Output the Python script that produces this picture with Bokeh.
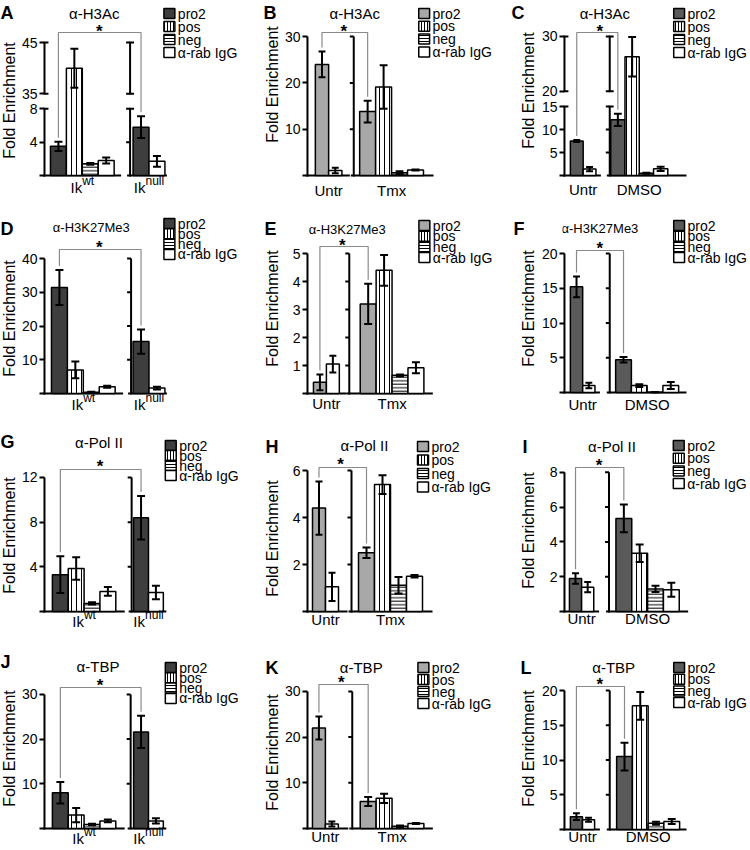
import math
from bokeh.plotting import figure
from bokeh.layouts import gridplot
from bokeh.models import Range1d, FixedTicker
from bokeh.core.properties import value
from bokeh.embed import file_html
from bokeh.resources import INLINE

FONT = "Liberation Sans"

# ---------------- data ----------------
series_names = ["pro2", "pos", "neg", "α-rab IgG"]
panel_letters = ["A", "B", "C", "D", "E", "F", "G", "H", "I", "J", "K", "L"]
panel_titles = ["α-H3Ac", "α-H3Ac", "α-H3Ac",
                "α-H3K27Me3", "α-H3K27Me3", "α-H3K27Me3",
                "α-Pol II", "α-Pol II", "α-Pol II",
                "α-TBP", "α-TBP", "α-TBP"]
y_axis_title = "Fold Enrichment"
group_labels_ik = [("Ik", "wt"), ("Ik", "null")]
group_labels_tmx = [("Untr", ""), ("Tmx", "")]
group_labels_dmso = [("Untr", ""), ("DMSO", "")]

ticks_A = [4, 8, 35, 45]
ticks_B = [10, 20, 30]
ticks_C = [5, 10, 15, 20, 30]
ticks_D = [10, 20, 30, 40]
ticks_E = [1, 2, 3, 4, 5]
ticks_F = [5, 10, 15, 20]
ticks_G = [4, 8, 12]
ticks_H = [2, 4, 6]
ticks_I = [2, 4, 6, 8]
ticks_J = [10, 20, 30]
ticks_K = [10, 20, 30]
ticks_L = [5, 10, 15, 20]

# values in series order [pro2, pos, neg, α-rab IgG]; None = not shown
A_g1 = [3.5, 40.0, 1.4, 1.8];    A_g1_err = [0.55, 3.8, 0.1, 0.35]
A_g2 = [5.8, None, None, 1.7];   A_g2_err = [1.3, None, None, 0.65]
B_g1 = [24.0, None, None, 1.1];  B_g1_err = [2.8, None, None, 0.6]
B_g2 = [13.8, 19.1, 0.6, 1.2];   B_g2_err = [2.35, 4.7, 0.3, 0.1]
C_g1 = [7.5, None, None, 1.4];   C_g1_err = [0.2, None, None, 0.45]
C_g2 = [12.1, 26.3, 0.5, 1.45];  C_g2_err = [1.35, 3.6, 0.1, 0.45]
D_g1 = [31.4, 7.0, 0.4, 2.0];    D_g1_err = [5.2, 2.5, 0.1, 0.3]
D_g2 = [15.4, None, None, 1.6];  D_g2_err = [3.6, None, None, 0.4]
E_g1 = [0.4, None, None, 1.05];  E_g1_err = [0.28, None, None, 0.3]
E_g2 = [3.2, 4.4, 0.65, 0.92];   E_g2_err = [0.72, 0.55, 0.03, 0.2]
F_g1 = [15.2, None, None, 1.0];  F_g1_err = [1.5, None, None, 0.4]
F_g2 = [4.7, 1.0, 0.05, 1.0];    F_g2_err = [0.4, 0.2, 0.0, 0.5]
G_g1 = [3.3, 3.85, 0.72, 1.8];   G_g1_err = [1.65, 1.0, 0.1, 0.4]
G_g2 = [8.4, None, None, 1.7];   G_g2_err = [1.95, None, None, 0.6]
H_g1 = [4.4, None, None, 1.05];  H_g1_err = [1.13, None, None, 0.6]
H_g2 = [2.5, 5.4, 1.12, 1.5];    H_g2_err = [0.22, 0.4, 0.35, 0.05]
I_g1 = [1.9, None, None, 1.4];   I_g1_err = [0.3, None, None, 0.3]
I_g2 = [5.35, 3.35, 1.3, 1.25];  I_g2_err = [0.8, 0.5, 0.18, 0.4]
J_g1 = [8.0, 3.0, 0.9, 1.7];     J_g1_err = [2.4, 1.6, 0.15, 0.3]
J_g2 = [21.6, None, None, 1.7];  J_g2_err = [3.6, None, None, 0.6]
K_g1 = [22.0, None, None, 1.0];  K_g1_err = [2.5, None, None, 0.55]
K_g2 = [5.9, 6.6, 0.5, 1.1];     K_g2_err = [1.0, 1.0, 0.15, 0.1]
L_g1 = [1.85, None, None, 1.4];  L_g1_err = [0.5, None, None, 0.3]
L_g2 = [10.5, 17.8, 0.9, 1.15];  L_g2_err = [2.0, 2.0, 0.2, 0.35]

PANEL_DATA = {
    "A": (A_g1, A_g1_err, A_g2, A_g2_err), "B": (B_g1, B_g1_err, B_g2, B_g2_err),
    "C": (C_g1, C_g1_err, C_g2, C_g2_err), "D": (D_g1, D_g1_err, D_g2, D_g2_err),
    "E": (E_g1, E_g1_err, E_g2, E_g2_err), "F": (F_g1, F_g1_err, F_g2, F_g2_err),
    "G": (G_g1, G_g1_err, G_g2, G_g2_err), "H": (H_g1, H_g1_err, H_g2, H_g2_err),
    "I": (I_g1, I_g1_err, I_g2, I_g2_err), "J": (J_g1, J_g1_err, J_g2, J_g2_err),
    "K": (K_g1, K_g1_err, K_g2, K_g2_err), "L": (L_g1, L_g1_err, L_g2, L_g2_err),
}
PANEL_TICKS = {"A": ticks_A, "B": ticks_B, "C": ticks_C, "D": ticks_D, "E": ticks_E,
               "F": ticks_F, "G": ticks_G, "H": ticks_H, "I": ticks_I, "J": ticks_J,
               "K": ticks_K, "L": ticks_L}
GROUP_LABELS = [group_labels_ik, group_labels_tmx, group_labels_dmso]

# ---------------- layout / style (pixels in the reference picture) ----------------
COL_O = [0, 250, 500]
ROW_O = [0, 210, 420, 635]
FIG_W = [250, 250, 249]
STRIP_W = [18, 31, 38]
FIG_H = [210, 210, 215, 214]
PRO2_COLORS = ["#3e3e3e", "#a8a8a8", "#5a5a5a"]
TITLE_SIZE = ["15px", "13px", "15px", "15px"]
TICK_SIZE = ["14px", "14px", "14px"]

LAYOUT = {
    "A": dict(lx=43, mx=129, g1=(49, 16), b1=120, g2=(132, 16), b2=166, y0=175, ppu=8.33,
              brk=(8, 35, 15, 5.13), br=32, ast=(98, 28), title=(93, 13), letter=(0, 12),
              leg=(163, 13, 13), fe=(9, 100), xl=11),
    "B": dict(lx=304, mx=351, g1=(312, 13.5), b1=347, g2=(357, 16.2), b2=432, y0=175, ppu=4.63,
              br=32, ast=(341, 28), title=(352, 13), letter=(263, 12),
              leg=(417, 13, 12.8), fe=(272, 84), xl=15),
    "C": dict(lx=561, mx=607, g1=(567, 13), b1=598, g2=(608, 14.5), b2=685, y0=175, ppu=4.6,
              brk=(15, 20, 15.3, 5.47), br=32, ast=(597, 28), title=(602, 13), letter=(511, 12),
              leg=(672, 13, 13), fe=(528, 90), xl=14),
    "D": dict(lx=43, mx=130, g1=(50, 16), b1=122, g2=(132, 16), b2=166, y0=393, ppu=3.375,
              br=249, ast=(98, 244), title=(90, 227), letter=(0, 228),
              leg=(163, 223, 10.3), fe=(9, 318), xl=10),
    "E": dict(lx=306, mx=348, g1=(312, 13), b1=345, g2=(359, 16), b2=432, y0=393, ppu=28,
              br=246, ast=(341, 242), title=(346, 229), letter=(264, 228),
              leg=(418, 225, 10.7), fe=(272, 308), xl=10),
    "F": dict(lx=561, mx=607, g1=(567, 12.5), b1=597, g2=(613, 16), b2=685, y0=392, ppu=6.95,
              br=250, ast=(597, 245), title=(597, 228), letter=(513, 228),
              leg=(672, 225, 10.7), fe=(528, 308), xl=12),
    "G": dict(lx=42, mx=130, g1=(50, 16), b1=123, g2=(132, 15), b2=165, y0=611, ppu=11.17,
              br=469, ast=(98, 463), title=(97, 442), letter=(0, 441),
              leg=(164, 445, 10), fe=(9, 535), xl=9),
    "H": dict(lx=307, mx=351, g1=(312, 13), b1=347, g2=(358, 16), b2=432, y0=611, ppu=23.5,
              br=467, ast=(340, 461), title=(364, 445), letter=(265, 446),
              leg=(417, 446, 13.5), fe=(272, 538), xl=8),
    "I": dict(lx=562, mx=607, g1=(567, 12.3), b1=597, g2=(614, 16), b2=687, y0=611, ppu=17.4,
              br=467, ast=(597, 462), title=(610, 446), letter=(522, 446),
              leg=(672, 445, 12.7), fe=(528, 530), xl=7),
    "J": dict(lx=42, mx=129, g1=(50, 16), b1=123, g2=(132, 15), b2=165, y0=828, ppu=4.47,
              br=687, ast=(98, 682), title=(96, 666), letter=(0, 661),
              leg=(164, 667, 10.3), fe=(9, 748), xl=9),
    "K": dict(lx=306, mx=351, g1=(311, 13), b1=347, g2=(359, 16), b2=432, y0=828, ppu=4.57,
              br=684, ast=(340, 679), title=(360, 667), letter=(265, 667),
              leg=(417, 667, 12), fe=(272, 752), xl=8),
    "L": dict(lx=561, mx=607, g1=(567, 12.3), b1=597, g2=(614, 16), b2=685, y0=829, ppu=6.95,
              br=686, ast=(597, 681), title=(611, 667), letter=(520, 667),
              leg=(672, 667, 11.7), fe=(528, 748), xl=7),
}


def build_strip(idx):
    """Narrow figure holding the panel letter and the rotated y-axis title."""
    letter = panel_letters[idx]
    r, c = divmod(idx, 3)
    L = LAYOUT[letter]
    ox, oy, sw, H = COL_O[c], ROW_O[r], STRIP_W[c], FIG_H[r]
    s = figure(width=sw, height=H, title=None, tools="", toolbar_location=None,
               output_backend="svg", x_axis_location=None, y_axis_location=None,
               x_range=Range1d(0, sw), y_range=Range1d(0, H),
               min_border_left=0, min_border_right=0, min_border_top=0, min_border_bottom=0,
               outline_line_color=None, background_fill_color="white",
               border_fill_color="white")
    s.grid.visible = False
    s.text(x=[max(L["letter"][0] - ox, 0)], y=[H - (L["letter"][1] - oy)], text=[letter],
           text_font=value(FONT), text_font_size="18px", text_font_style="bold",
           text_align="left", text_baseline="middle", text_color="black")
    s.text(x=[L["fe"][0] - ox], y=[H - (L["fe"][1] - oy)], text=[y_axis_title],
           angle=math.pi / 2, text_font=value(FONT), text_font_size="16px",
           text_align="center", text_baseline="middle", text_color="black")
    return s


def build(idx):
    letter = panel_letters[idx]
    r, c = divmod(idx, 3)
    L = LAYOUT[letter]
    ox, oy = COL_O[c] + STRIP_W[c], ROW_O[r]
    W, H = FIG_W[c] - STRIP_W[c], FIG_H[r]
    lx, ppu, y0 = L["lx"], L["ppu"], L["y0"]
    brk = L.get("brk")

    def d(v):  # value -> display coordinate (handles broken axis)
        if brk is None or v <= brk[0]:
            return v
        lo, hi, gap_px, hppu = brk
        if v >= hi:
            return lo + gap_px / ppu + (v - hi) * hppu / ppu
        return lo + (v - lo) / (hi - lo) * gap_px / ppu

    def X(xa):
        return xa - lx

    def Y(ya):
        return (y0 - ya) / ppu

    lx_rel = lx - ox
    y0_rel = y0 - oy
    p = figure(width=W, height=H, title=None, tools="", toolbar_location=None,
               output_backend="svg", x_axis_location=None,
               x_range=Range1d(-2, W - lx_rel),
               y_range=Range1d(-(H - y0_rel) / ppu, y0_rel / ppu),
               min_border_left=lx_rel - 2, min_border_right=0,
               min_border_top=0, min_border_bottom=0,
               outline_line_color=None, background_fill_color="white",
               border_fill_color="white")
    p.grid.visible = False

    ticks = PANEL_TICKS[letter]
    tvals = [0] + [round(d(t), 4) for t in ticks]
    ax = p.yaxis[0]
    ax.ticker = FixedTicker(ticks=tvals)
    overrides = {0: ""}
    for t in ticks:
        overrides[round(d(t), 4)] = str(t)
    ax.major_label_overrides = overrides
    ax.axis_line_color = None
    ax.major_tick_line_width = 2
    ax.major_tick_line_color = "black"
    ax.major_tick_out = 3
    ax.major_tick_in = 2
    ax.minor_tick_line_color = None
    ax.major_label_text_font = FONT
    ax.major_label_text_font_size = TICK_SIZE[c]
    ax.major_label_text_color = "black"
    ax.major_label_standoff = 2

    top = d(ticks[-1])
    eps = 1.0 / ppu
    if brk is None:
        segs = [(-eps, top)]
        caps = []
    else:
        segs = [(-eps, brk[0]), (d(brk[1]), top)]
        caps = [brk[0], d(brk[1]), top]
    mxr = X(L["mx"])
    ax_x0, ax_y0, ax_x1, ax_y1 = [], [], [], []
    for (a, b) in segs:
        for xx in (0, mxr):
            ax_x0.append(xx); ax_y0.append(a); ax_x1.append(xx); ax_y1.append(b)
    for cy in caps:
        for xx in (0, mxr):
            ax_x0.append(xx - 1); ax_y0.append(cy); ax_x1.append(xx + 4); ax_y1.append(cy)
    for t in ticks:
        ax_x0.append(mxr - 4); ax_y0.append(d(t)); ax_x1.append(mxr); ax_y1.append(d(t))
    # baselines
    ax_x0 += [-1, mxr - 3]; ax_y0 += [0, 0]; ax_x1 += [X(L["b1"]), X(L["b2"])]; ax_y1 += [0, 0]
    p.segment(x0=ax_x0, y0=ax_y0, x1=ax_x1, y1=ax_y1, line_color="black", line_width=2)

    v1, e1, v2, e2 = PANEL_DATA[letter]
    per_series = {s: ([], [], []) for s in range(4)}
    ex, elo, ehi, ecw = [], [], [], []
    pro2_centers, pro2_tops = [], []
    group_centers = []
    for (gx, gw), vals, errs in ((L["g1"], v1, e1), (L["g2"], v2, e2)):
        i = 0
        for s in range(4):
            v, e = vals[s], errs[s]
            if v is None:
                continue
            cx = X(gx + (i + 0.5) * gw)
            i += 1
            per_series[s][0].append(cx)
            per_series[s][1].append(d(v))
            per_series[s][2].append(gw)
            ex.append(cx); elo.append(d(max(v - e, 0))); ehi.append(d(v + e))
            ecw.append(4 if gw >= 14 else 3.5)
            if s == 0:
                pro2_centers.append(cx)
                pro2_tops.append(d(v + e))
        group_centers.append(X(gx + i * gw / 2.0))

    def style(s, legend=False):
        if s == 0:
            return dict(fill_color=PRO2_COLORS[c])
        if s == 1:
            return dict(fill_color="white", hatch_pattern="vertical_line", hatch_color="black",
                        hatch_scale=3 if legend else 5, hatch_weight=1)
        if s == 2:
            return dict(fill_color="white", hatch_pattern="horizontal_line", hatch_color="black",
                        hatch_scale=3 if legend else 3.5, hatch_weight=1)
        return dict(fill_color="white")

    for s in range(4):
        xs, tops, ws = per_series[s]
        if xs:
            p.vbar(x=xs, top=tops, width=ws, bottom=0, line_color="black",
                   line_width=1.5, **style(s))

    # error bars
    p.segment(x0=ex, y0=elo, x1=ex, y1=ehi, line_color="black", line_width=2)
    p.segment(x0=[x - w for x, w in zip(ex, ecw)], y0=ehi,
              x1=[x + w for x, w in zip(ex, ecw)], y1=ehi, line_color="black", line_width=2)
    p.segment(x0=[x - w for x, w in zip(ex, ecw)], y0=elo,
              x1=[x + w for x, w in zip(ex, ecw)], y1=elo, line_color="black", line_width=2)

    # significance bracket
    gap = 4.0 / ppu
    yb = Y(L["br"])
    p.line(x=[pro2_centers[0], pro2_centers[0], pro2_centers[1], pro2_centers[1]],
           y=[pro2_tops[0] + gap, yb, yb, pro2_tops[1] + gap],
           line_color="#8a8a8a", line_width=1.2)
    p.text(x=[X(L["ast"][0])], y=[Y(L["ast"][1]) - 3.0 / ppu], text=["*"],
           text_font=value(FONT), text_font_size="17px", text_font_style="bold",
           text_align="center", text_baseline="middle", text_color="black")

    # title
    p.text(x=[X(L["title"][0])], y=[Y(L["title"][1])], text=[panel_titles[idx]],
           text_font=value(FONT), text_font_size=TITLE_SIZE[r],
           text_align="center", text_baseline="middle", text_color="black")

    # legend (drawn with the same fills as the bars)
    lgx, lgy, ldy = L["leg"]
    for s in range(4):
        yy = Y(lgy + s * ldy)
        p.rect(x=[X(lgx + 5.5)], y=[yy], width=11, height=10, height_units="screen",
               line_color="black", line_width=1.5, **style(s, legend=True))
        p.text(x=[X(lgx + 14)], y=[yy], text=[series_names[s]], text_font=value(FONT),
               text_font_size="14px", text_align="left", text_baseline="middle",
               text_color="black")

    # group labels
    for gi, (base, sup) in enumerate(GROUP_LABELS[c]):
        cx = group_centers[gi]
        if sup:
            wb = 11.7
            ws = (1.0 if sup == "wt" else 1.556) * 12
            xr = cx - (wb + ws) / 2 + wb
            p.text(x=[xr], y=[Y(y0 + L["xl"] + 1)], text=[base], text_font=value(FONT),
                   text_font_size="15px", text_align="right", text_baseline="middle",
                   text_color="black")
            p.text(x=[xr], y=[Y(y0 + L["xl"] - 6)], text=[sup], text_font=value(FONT),
                   text_font_size="12px", text_align="left", text_baseline="middle",
                   text_color="black")
        else:
            p.text(x=[cx], y=[Y(y0 + L["xl"])], text=[base], text_font=value(FONT),
                   text_font_size="15px", text_align="center", text_baseline="middle",
                   text_color="black")
    return p


rows = []
for r in range(4):
    row_figs = []
    for c in range(3):
        idx = r * 3 + c
        row_figs += [build_strip(idx), build(idx)]
    rows.append(row_figs)
grid = gridplot(rows, toolbar_location=None)

open("out.html", "w").write(file_html(grid, INLINE))
